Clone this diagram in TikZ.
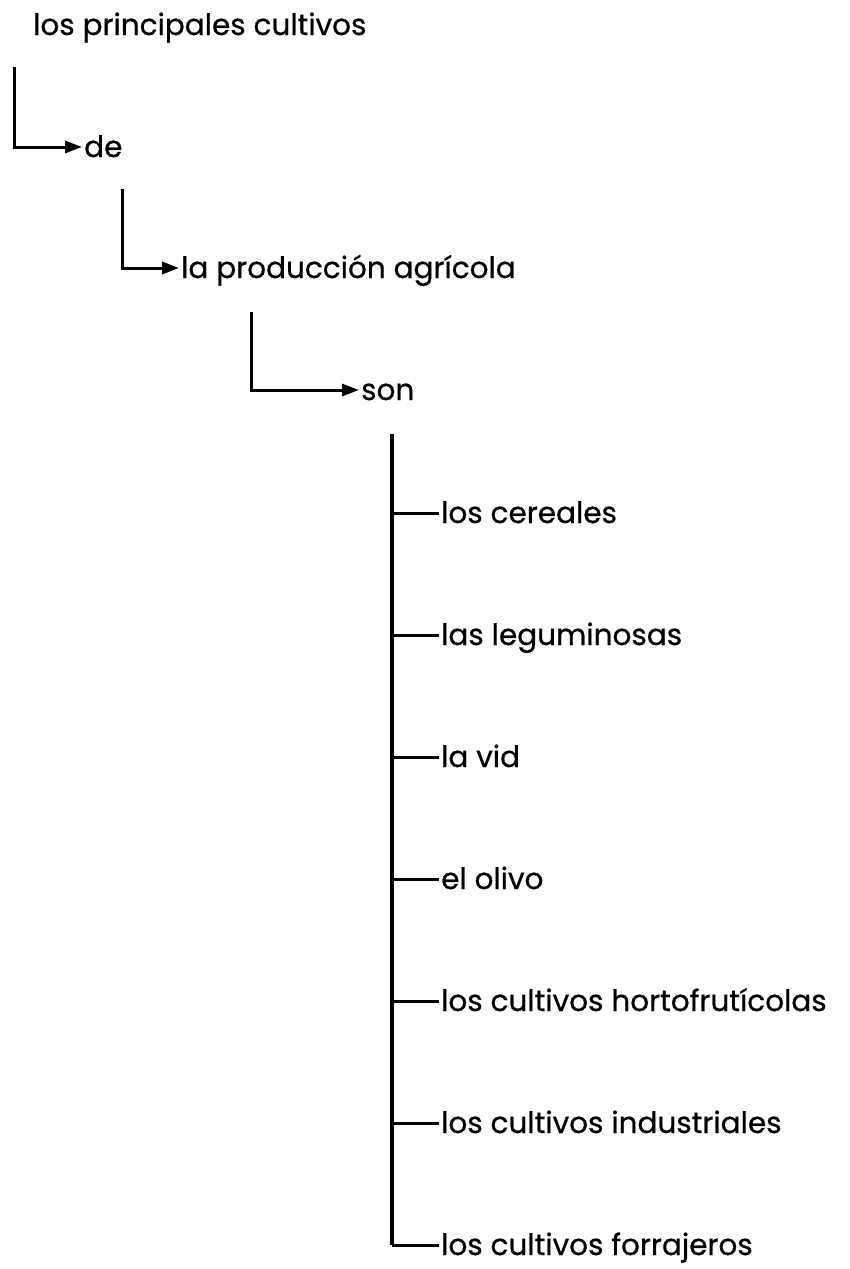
\documentclass[tikz,border=0pt]{standalone}
\usepackage{fontspec}
\setmainfont{Poppins}
\newfontfamily\lblfont{Poppins}[FakeBold=0.7]
\usetikzlibrary{arrows.meta}
\begin{document}
\begin{tikzpicture}[x=1pt,y=-1pt,
  lbl/.style={anchor=west,inner xsep=2pt,inner ysep=0pt,text height=20pt,text depth=0pt,font=\lblfont\fontsize{29.5}{34}\selectfont},
  conn/.style={line width=3pt},
  arr/.style={line width=3pt,-{Triangle[length=17pt,width=12pt]}},
  spine/.style={line width=4.4pt}]
\useasboundingbox (0,0) rectangle (850,1269);
\node[lbl] (t0) at (31,25) {los principales cultivos};
\node[lbl] (de) at (82,147) {de};
\node[lbl] (lp) at (179,268) {la producción agrícola};
\node[lbl] (son) at (359,390) {son};
\coordinate (c1) at (14,67);
\coordinate (c2) at (122,189);
\coordinate (c3) at (251,312);
\coordinate (c4) at (392,434);
\draw[arr] (c1) |- (de.west);
\draw[arr] (c2) |- (lp.west);
\draw[arr] (c3) |- (son.west);
\foreach \i/\y/\t in {1/513/los cereales,2/635/las leguminosas,3/757/la vid,4/879/el olivo,5/1001/los cultivos hortofrutícolas,6/1123/los cultivos industriales,7/1245/los cultivos forrajeros}{
  \node[lbl] (n\i) at (439,\y) {\t};
}
\draw[spine] (c4) -- (c4 |- n7.west);
\foreach \i in {1,...,7}{
  \draw[conn] (c4 |- n\i.west) -- (n\i.west);
}
\end{tikzpicture}
\end{document}
